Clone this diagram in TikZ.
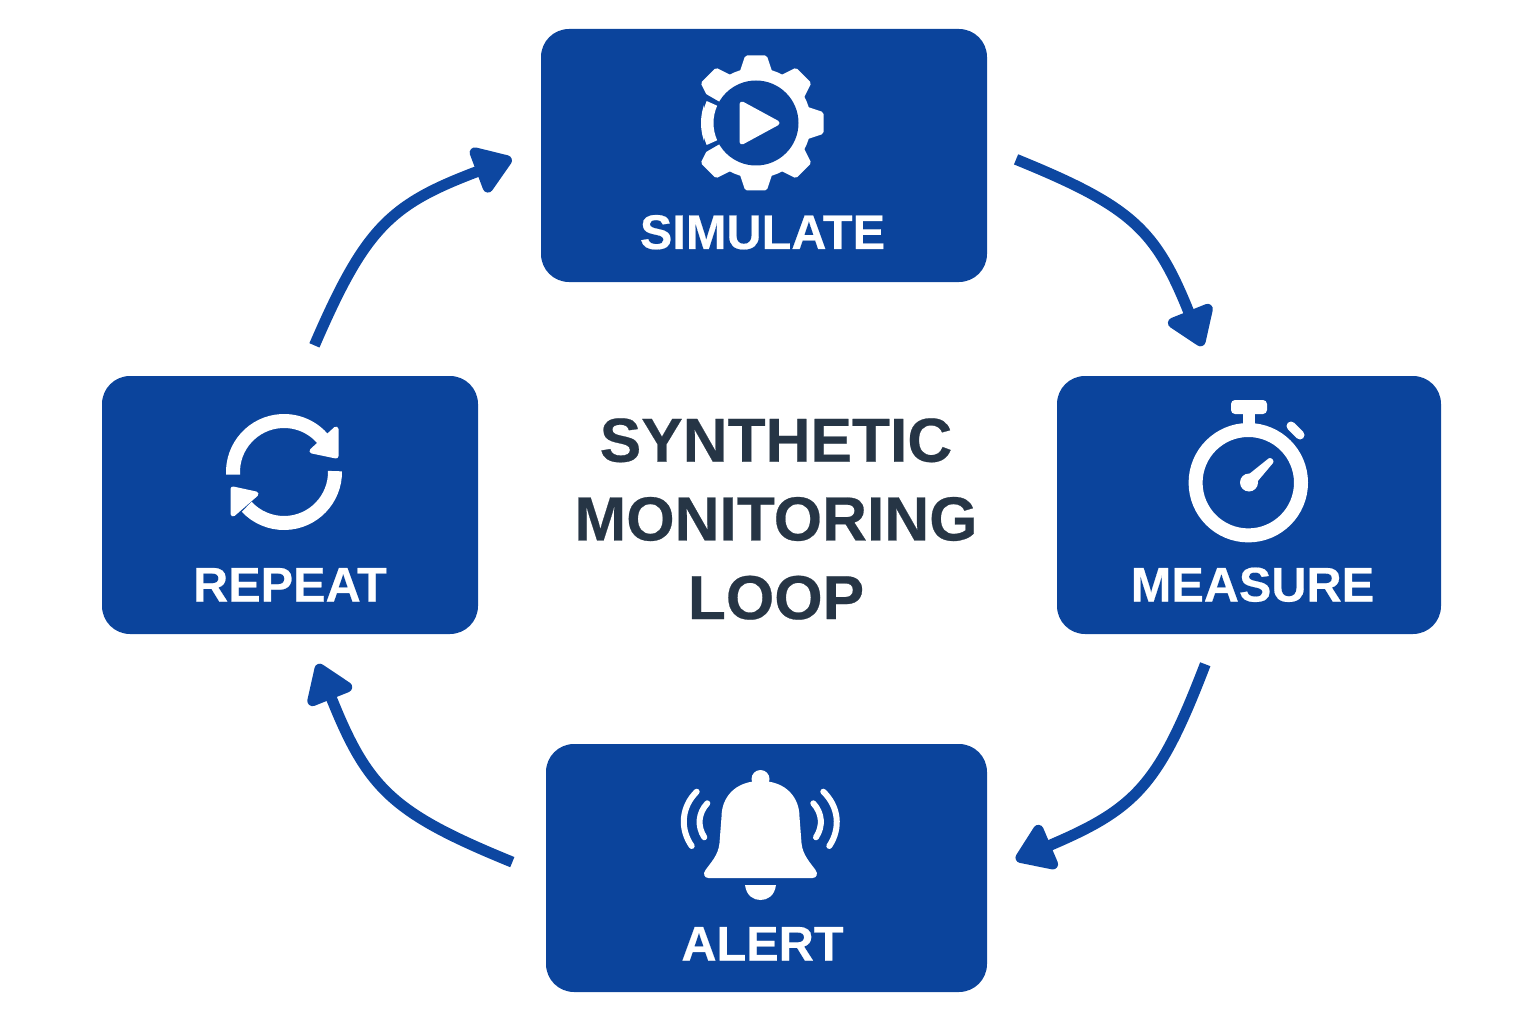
\documentclass[tikz,border=0pt]{standalone}
\usepackage{fontspec}
\setmainfont[BoldFeatures={FakeBold=0.4}]{Liberation Sans}
\usepackage{xcolor}
\usetikzlibrary{arrows.meta}
\definecolor{boxblue}{HTML}{0B449C}
\definecolor{arrowblue}{HTML}{0D47A1}
\definecolor{titleink}{HTML}{263545}
\def\px{0.02cm}

\begin{document}
\begin{tikzpicture}[x=\px,y=\px,
    >={Triangle[length=42*\px,width=54*\px,round]},
    stagebox/.style={fill=boxblue,rectangle,rounded corners=28*\px,inner sep=0pt,minimum width=#1*\px},
    stagename/.style={text=white,anchor=base,inner sep=0pt,font=\fontsize{27.7}{32}\selectfont\bfseries},
    flow/.style={->,arrowblue,line width=11*\px},
    glyph/.style={white,fill=white,line width=5*\px,line join=round},
    strokeicon/.style={white,line width=#1*\px,line cap=round}]
  \useasboundingbox (0,0) rectangle (1536,-1024);

  \node [stagebox=446,minimum height=253*\px] (simulate) at (764,-155.5) {};
  \node [stagebox=384,minimum height=258*\px] (measure) at (1249,-505) {};
  \node [stagebox=441,minimum height=248*\px] (alert) at (766.5,-868) {};
  \node [stagebox=376,minimum height=258*\px] (repeat) at (290,-505) {};

  \node [stagename] (simulatename) at (762.5,-249) {SIMULATE};
  \node [stagename] (measurename) at (1252.5,-601.5) {MEASURE};
  \node [stagename] (alertname) at (762.5,-960.5) {ALERT};
  \node [stagename] (repeatname) at (290,-601.5) {REPEAT};

  \node [text=titleink,align=center,inner sep=0pt,font=\fontsize{35.4}{44.8}\selectfont\bfseries] (title) at (776,-519)
    {SYNTHETIC\\MONITORING\\LOOP};

  \draw [flow,shorten <=31*\px,shorten >=32*\px] (simulate.2) to[bend left=23,looseness=1.25] (measure.105);
  \draw [flow,shorten <=32*\px,shorten >=31*\px] (measure.256) to[bend left=23,looseness=1.25] (alert.-1);
  \draw [flow,shorten <=36*\px,shorten >=32*\px] (alert.182) to[bend left=23,looseness=1.25] (repeat.277);
  \draw [flow,shorten <=33*\px,shorten >=31*\px] (repeat.85) to[bend left=23,looseness=1.25] (simulate.178);

  % gear with play sign
  \begin{scope}[shift={(756,-123)}]
    \fill [white] (0,0) circle (55);
    \foreach \a in {0,45,90,135,225,270,315}
      \filldraw [glyph,rotate=\a] (50,-14) -- (65,-9) -- (65,9) -- (50,14) -- cycle;
    \fill [boxblue] (0,0) circle (42.5);
    \fill [boxblue] (150:40) -- (150:60) -- (210:60) -- (210:40) -- cycle;
    \fill [white] (156:42.5) arc (156:204:42.5) -- (204:54) arc (204:156:54) -- cycle;
    \filldraw [glyph] (-14,19) -- (21,0) -- (-14,-19) -- cycle;
  \end{scope}

  % stopwatch
  \draw [white,line width=14*\px] (1248.3,-482.7) circle (52.7);
  \fill [white] (1243,-412) rectangle (1255,-426);
  \fill [white,rounded corners=4*\px] (1231,-400) rectangle (1267,-414);
  \draw [strokeicon=9] (1291,-426) -- (1300,-435);
  \fill [white] (1249,-482.5) circle (9);
  \filldraw [glyph] (1252.5,-483.5) -- (1271,-461.5) -- (1270,-460.5) -- (1247.5,-478.5) -- cycle;

  % bell
  \begin{scope}[shift={(760.5,-760)}]
    \fill [white] (0,-19) circle (9);
    \fill [white] (0,-21) .. controls (26,-21) and (39,-38) .. (39,-57) -- (41,-83)
      .. controls (42,-95) and (50,-103) .. (55,-110) .. controls (58,-114) and (56,-118) .. (52,-118)
      -- (-52,-118) .. controls (-56,-118) and (-58,-114) .. (-55,-110)
      .. controls (-50,-103) and (-42,-95) .. (-41,-83) -- (-39,-57)
      .. controls (-39,-38) and (-26,-21) .. (0,-21) -- cycle;
    \fill [white] (-15.5,-125) .. controls (-14,-136) and (-7,-140) .. (0,-140)
      .. controls (7,-140) and (14,-136) .. (15.5,-125) -- cycle;
  \end{scope}
  \draw [strokeicon=6] (696.7,-791.7) to[bend right=40] (691.7,-846);
  \draw [strokeicon=6] (707.3,-803.3) to[bend right=38] (704.3,-837.3);
  \draw [strokeicon=6] (823.3,-791.7) to[bend left=40] (829.3,-846);
  \draw [strokeicon=6] (813.3,-803.3) to[bend left=38] (816,-837.3);

  % circular arrows
  \begin{scope}[shift={(284,-472)}]
    \draw [white,line width=14*\px] (183:51) arc (183:39:51);
    \draw [white,line width=14*\px] (1:51) arc (1:-137:51);
    \filldraw [glyph] (52,43) -- (52,16) -- (28,21) -- cycle;
    \filldraw [glyph] (-51,-17) -- (-51,-42) -- (-28,-22) -- cycle;
  \end{scope}
\end{tikzpicture}
\end{document}
